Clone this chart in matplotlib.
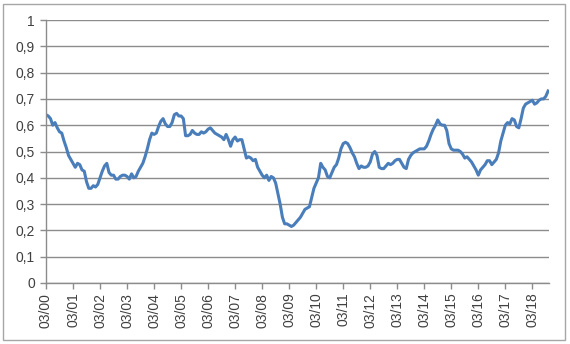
import numpy as np
import matplotlib
matplotlib.use("Agg")
import matplotlib.pyplot as plt
from matplotlib.ticker import FuncFormatter
from matplotlib.patches import Rectangle

# monthly values, starting March 2000
values = [
    0.64, 0.635, 0.625, 0.60, 0.61, 0.59, 0.575, 0.57, 0.54, 0.515, 0.485, 0.47,
    0.455, 0.44, 0.455, 0.45, 0.43, 0.425, 0.385, 0.36, 0.36, 0.37, 0.365, 0.375,
    0.40, 0.425, 0.445, 0.455, 0.42, 0.41, 0.41, 0.395, 0.395, 0.405, 0.41, 0.41,
    0.405, 0.395, 0.415, 0.40, 0.405, 0.425, 0.44, 0.455, 0.48, 0.51, 0.545, 0.57,
    0.565, 0.57, 0.595, 0.615, 0.625, 0.605, 0.595, 0.595, 0.61, 0.64, 0.645, 0.635,
    0.635, 0.625, 0.56, 0.56, 0.565, 0.58, 0.57, 0.565, 0.565, 0.575, 0.57, 0.575,
    0.585, 0.59, 0.58, 0.57, 0.565, 0.56, 0.555, 0.545, 0.565, 0.545, 0.52, 0.545,
    0.555, 0.54, 0.545, 0.545, 0.51, 0.475, 0.48, 0.475, 0.465, 0.47, 0.44, 0.425,
    0.41, 0.40, 0.41, 0.39, 0.405, 0.40, 0.38, 0.34, 0.30, 0.25, 0.225, 0.225,
    0.22, 0.215, 0.22, 0.23, 0.24, 0.25, 0.265, 0.28, 0.285, 0.29, 0.325, 0.36,
    0.38, 0.40, 0.455, 0.44, 0.43, 0.405, 0.40, 0.42, 0.44, 0.45, 0.475, 0.51,
    0.53, 0.535, 0.53, 0.515, 0.495, 0.48, 0.455, 0.435, 0.445, 0.44, 0.44, 0.445,
    0.46, 0.49, 0.50, 0.485, 0.44, 0.435, 0.435, 0.445, 0.455, 0.45, 0.455, 0.465,
    0.47, 0.47, 0.455, 0.44, 0.435, 0.47, 0.485, 0.495, 0.50, 0.505, 0.51, 0.51,
    0.51, 0.52, 0.54, 0.565, 0.585, 0.60, 0.62, 0.605, 0.60, 0.60, 0.58, 0.53,
    0.51, 0.505, 0.505, 0.505, 0.50, 0.49, 0.475, 0.48, 0.47, 0.46, 0.445, 0.43,
    0.41, 0.43, 0.44, 0.45, 0.465, 0.465, 0.45, 0.46, 0.47, 0.495, 0.54, 0.57,
    0.60, 0.61, 0.605, 0.625, 0.62, 0.595, 0.59, 0.625, 0.665, 0.68, 0.685, 0.69,
    0.695, 0.68, 0.685, 0.695, 0.70, 0.70, 0.71, 0.73,
]
tick_labels = ["03/%02d" % y for y in range(0, 19)]

x = np.arange(len(values))

fig = plt.figure(figsize=(5.7, 3.44), dpi=100)
fig.patches.append(Rectangle((3 / 570, 4 / 344), 562 / 570, 336 / 344,
                             transform=fig.transFigure, fill=False,
                             edgecolor="#a6a6a6", linewidth=1.0))

ax = fig.add_axes([46 / 570, 61 / 344, 503 / 570, 263 / 344])
ax.plot(x, values, color="#4a7ebb", linewidth=2.2, solid_joinstyle="round")

ax.set_xlim(0, len(values) - 1 + 0.4)
ax.set_ylim(0, 1)
ax.set_yticks(np.arange(0, 1.01, 0.1))
ax.yaxis.set_major_formatter(FuncFormatter(
    lambda v, p: "0" if abs(v) < 1e-9 else ("1" if abs(v - 1) < 1e-9 else ("%.1f" % v).replace(".", ","))))
ax.set_xticks(np.arange(0, len(values), 12))
ax.set_xticklabels(tick_labels, rotation=90)

ax.grid(axis="y", color="#8c8c8c", linewidth=1.0)
ax.set_axisbelow(True)
for s in ["top", "right"]:
    ax.spines[s].set_visible(False)
for s in ["left", "bottom"]:
    ax.spines[s].set_color("#8c8c8c")
    ax.spines[s].set_linewidth(1.0)

ax.tick_params(axis="both", colors="#8c8c8c", length=4, width=1.0,
               labelcolor="#404040", labelsize=10)
ax.tick_params(axis="x", pad=3)
ax.tick_params(axis="y", pad=4)
for lab in ax.get_xticklabels() + ax.get_yticklabels():
    lab.set_fontfamily("Liberation Sans")

fig.savefig("out.png", dpi=100)
